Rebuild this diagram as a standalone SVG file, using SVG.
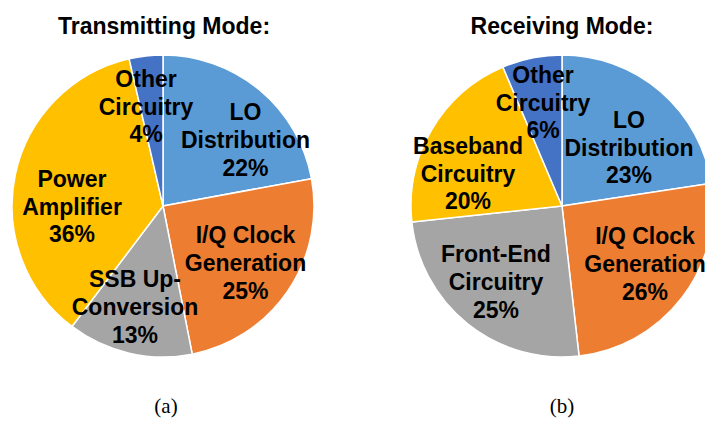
<svg xmlns="http://www.w3.org/2000/svg" width="705" height="421" viewBox="0 0 705 421">
  <style>
    .slice { stroke: #ffffff; stroke-width: 1.5; stroke-linejoin: round; }
    .lo { fill: #5B9BD5; }
    .iq { fill: #ED7D31; }
    .gray { fill: #A5A5A5; }
    .yel { fill: #FFC000; }
    .oth { fill: #4472C4; }
    .title { font-family: "Liberation Sans", Arial, sans-serif; font-weight: bold; font-size: 23px; fill: #000; text-anchor: middle; }
    .lbl { font-family: "Liberation Sans", Arial, sans-serif; font-weight: bold; font-size: 23px; fill: #000; text-anchor: middle; }
    .cap { font-family: "Liberation Serif", "Times New Roman", serif; font-size: 21px; fill: #000; text-anchor: middle; }
  </style>
  <rect width="705" height="421" fill="#ffffff"/>

  <!-- (a) transmitting mode -->
  <g id="chart-tx">
    <text class="title" x="164" y="34">Transmitting Mode:</text>
    <g id="tx-lo">
      <path class="slice lo" d="M163,206 L163,55 A151,151 0 0 1 311.50,178.64 Z"/>
      <text class="lbl"><tspan x="245.5" y="120">LO</tspan><tspan x="245.5" y="148">Distribution</tspan><tspan x="245.5" y="176">22%</tspan></text>
    </g>
    <g id="tx-iq">
      <path class="slice iq" d="M163,206 L311.50,178.64 A151,151 0 0 1 192.23,354.14 Z"/>
      <text class="lbl"><tspan x="245.5" y="243">I/Q Clock</tspan><tspan x="245.5" y="271">Generation</tspan><tspan x="245.5" y="299">25%</tspan></text>
    </g>
    <g id="tx-ssb">
      <path class="slice gray" d="M163,206 L192.23,354.14 A151,151 0 0 1 71.95,326.45 Z"/>
    </g>
    <g id="tx-pa">
      <path class="slice yel" d="M163,206 L71.95,326.45 A151,151 0 0 1 129.14,58.85 Z"/>
      <text class="lbl"><tspan x="72" y="187">Power</tspan><tspan x="72" y="215">Amplifier</tspan><tspan x="72" y="242">36%</tspan></text>
    </g>
    <g id="tx-other">
      <path class="slice oth" d="M163,206 L129.14,58.85 A151,151 0 0 1 163,55 Z"/>
      <text class="lbl"><tspan x="146" y="87">Other</tspan><tspan x="146" y="115">Circuitry</tspan><tspan x="146" y="142">4%</tspan></text>
    </g>
    <text id="tx-ssb-label" class="lbl"><tspan x="135" y="287">SSB Up-</tspan><tspan x="135" y="315">Conversion</tspan><tspan x="135" y="343">13%</tspan></text>
    <text class="cap" x="166" y="413">(a)</text>
  </g>

  <!-- (b) receiving mode -->
  <g id="chart-rx">
    <text class="title" x="562" y="34">Receiving Mode:</text>
    <g id="rx-lo">
      <path class="slice lo" d="M562,206 L562,55 A151,151 0 0 1 711.29,183.32 Z"/>
    </g>
    <g id="rx-iq">
      <path class="slice iq" d="M562,206 L711.29,183.32 A151,151 0 0 1 579.04,356.04 Z"/>
      <text class="lbl"><tspan x="645" y="244">I/Q Clock</tspan><tspan x="645" y="272">Generation</tspan><tspan x="645" y="300">26%</tspan></text>
    </g>
    <g id="rx-fe">
      <path class="slice gray" d="M562,206 L579.04,356.04 A151,151 0 0 1 411.86,222.10 Z"/>
      <text class="lbl"><tspan x="496" y="262">Front-End</tspan><tspan x="496" y="290">Circuitry</tspan><tspan x="496" y="318">25%</tspan></text>
    </g>
    <g id="rx-bb">
      <path class="slice yel" d="M562,206 L411.86,222.10 A151,151 0 0 1 502.91,67.04 Z"/>
      <text class="lbl"><tspan x="468" y="154">Baseband</tspan><tspan x="468" y="181.5">Circuitry</tspan><tspan x="468" y="209">20%</tspan></text>
    </g>
    <g id="rx-other">
      <path class="slice oth" d="M562,206 L502.91,67.04 A151,151 0 0 1 562,55 Z"/>
    </g>
    <text id="rx-other-label" class="lbl"><tspan x="543" y="83">Other</tspan><tspan x="543" y="110.5">Circuitry</tspan><tspan x="543" y="137.5">6%</tspan></text>
    <text id="rx-lo-label" class="lbl"><tspan x="629" y="128">LO</tspan><tspan x="629" y="155.5">Distribution</tspan><tspan x="629" y="183">23%</tspan></text>
    <text class="cap" x="562" y="413">(b)</text>
  </g>
</svg>
